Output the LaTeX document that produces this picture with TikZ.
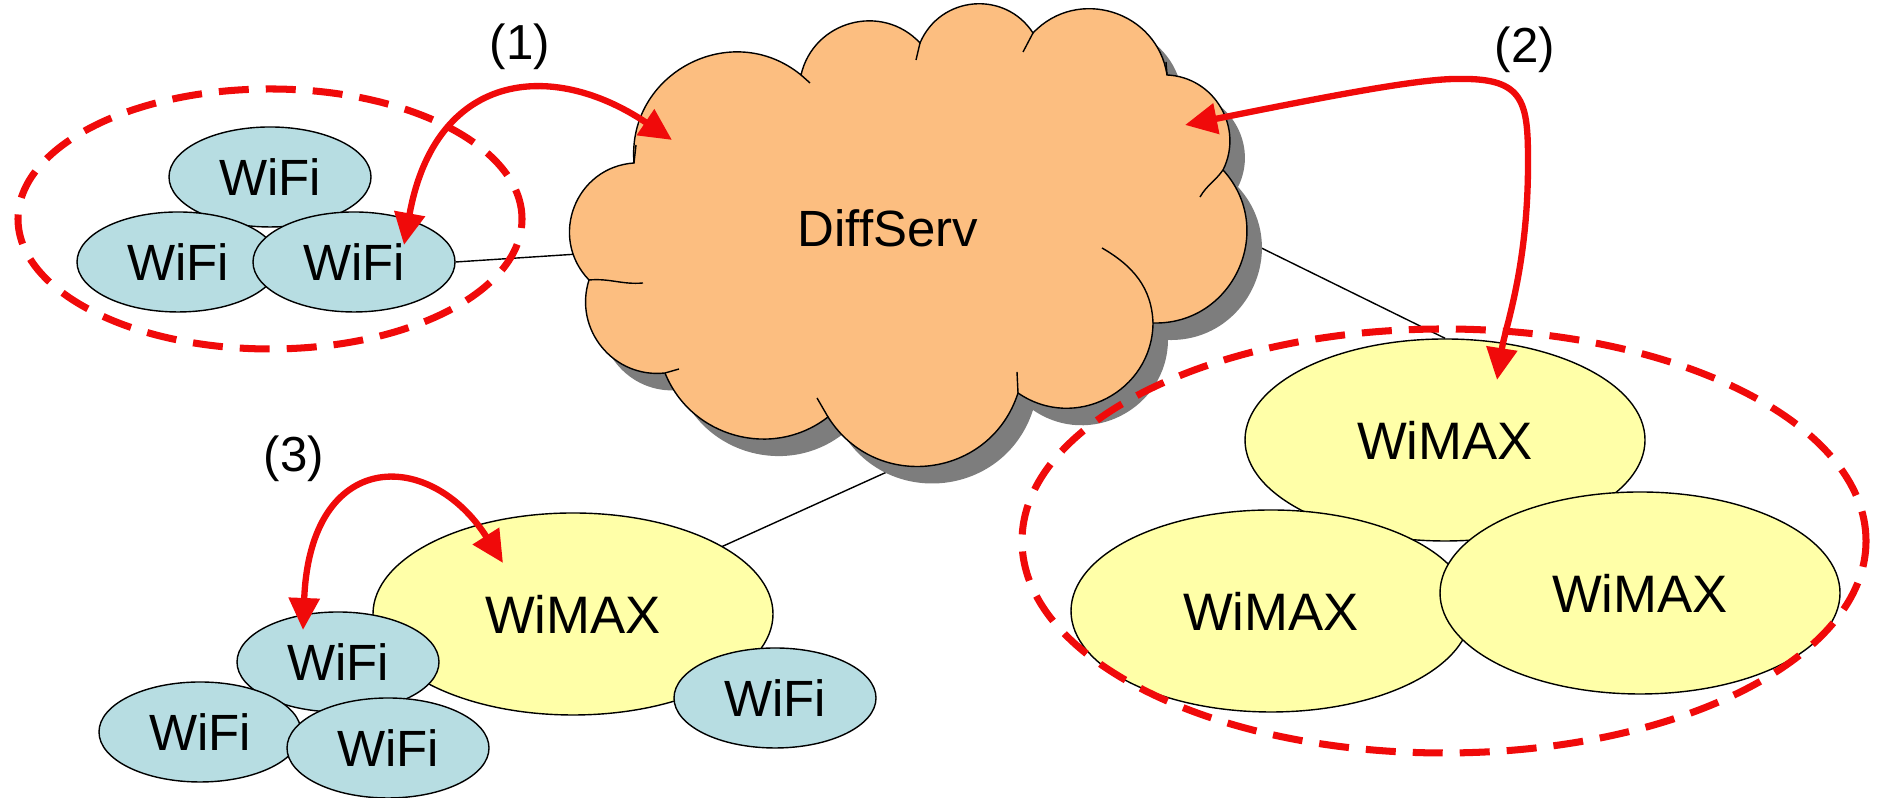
\documentclass[tikz,border=0pt]{standalone}
\usepackage{fontspec}
\setmainfont{Liberation Sans}
\usetikzlibrary{shapes.geometric}
\usetikzlibrary{arrows.meta}
\definecolor{wifiblue}{RGB}{183,221,226}
\definecolor{wimaxyellow}{RGB}{255,255,168}
\definecolor{cloudorange}{RGB}{252,190,128}
\definecolor{shadowgray}{RGB}{125,125,125}
\definecolor{hopred}{RGB}{240,10,10}
% outline of the DiffServ cloud, one puff per segment
\newcommand{\cloudoutline}{(6.34,6.35) to[bend left=67,looseness=1.22] (8.01,7.23)
  to[bend left=62,looseness=1.16] (9.20,7.55) to[bend left=62,looseness=1.16] (10.33,7.65)
  to[bend left=64,looseness=1.18] (11.67,7.23) to[bend left=57,looseness=1.10] (12.23,6.28)
  to[bend left=67,looseness=1.22] (11.53,4.75) to[bend left=62,looseness=1.16] (10.18,4.05)
  to[bend left=65,looseness=1.20] (8.28,3.81) to[bend left=53,looseness=1.06] (6.65,4.25)
  to[bend left=57,looseness=1.10] (5.89,5.18) to[bend left=65,looseness=1.20] (6.34,6.35) -- cycle}

\begin{document}
\begin{tikzpicture}[
  wifi/.style={ellipse,draw=black,thin,fill=wifiblue,minimum width=2.02cm,minimum height=1.0cm,inner sep=0pt,font=\fontsize{14.5}{17}\selectfont},
  wimax/.style={ellipse,draw=black,thin,fill=wimaxyellow,minimum width=4.0cm,minimum height=2.02cm,inner sep=0pt,font=\fontsize{15}{18}\selectfont},
  link/.style={draw=black,thin},
  crease/.style={draw=black,thin},
  zone/.style={draw=hopred,line width=2pt,dash pattern=on 0.3cm off 0.17cm},
  hop/.style={draw=hopred,line width=1.8pt,{Triangle[length=0.32cm,width=0.3cm]}-{Triangle[length=0.32cm,width=0.3cm]}},
  tag/.style={font=\fontsize{14}{16}\selectfont}
]
\useasboundingbox (0,0) rectangle (18.8,7.98);

% nodes of the three access groups
\node[wifi] (lfT) at (2.70,6.21) {WiFi};
\node[wifi] (lfL) at (1.78,5.36) {WiFi};
\node[wifi] (lfR) at (3.54,5.36) {WiFi};

\coordinate (coreW) at (6.40,5.48);
\coordinate (coreE) at (11.80,5.90);
\coordinate (coreS) at (9.09,3.36);
\draw[link] (lfR.east) -- (coreW);

\node[wimax] (rwT) at (14.45,3.58) {WiMAX};
\draw[link] (coreE) -- (rwT.north);
\node[wimax] (rwL) at (12.71,1.87) {WiMAX};
\node[wimax] (rwR) at (16.40,2.05) {WiMAX};

\coordinate (bwMc) at (5.73,1.84);
\draw[link] (bwMc) -- (coreS);
\node[wimax] (bwM) at (5.73,1.84) {WiMAX};
\node[wifi] (bfR) at (7.75,1.00) {WiFi};
\node[wifi] (bfT) at (3.38,1.36) {WiFi};
\node[wifi] (bfL) at (2.00,0.66) {WiFi};
\node[wifi] (bfM) at (3.88,0.50) {WiFi};

% core cloud with its shadow
\fill[shadowgray,xshift=0.15cm,yshift=-0.17cm] \cloudoutline;
\draw[black,thin,fill=cloudorange] \cloudoutline;
\draw[crease] (11.53,4.75) to[out=92,in=-30] (11.02,5.50);
\draw[crease] (12.23,6.28) to[out=235,in=60] (12.00,6.01);
\draw[crease] (5.89,5.18) to[out=5,in=185] (6.43,5.15);
\draw[crease] (6.34,6.35) -- (6.36,6.53);
\draw[crease] (8.01,7.23) -- (8.10,7.15);
\draw[crease] (9.20,7.55) -- (9.16,7.38);
\draw[crease] (10.33,7.65) -- (10.23,7.46);
\draw[crease] (11.67,7.23) -- (11.66,7.36);
\draw[crease] (10.18,4.05) -- (10.17,4.26);
\draw[crease] (8.28,3.81) -- (8.17,4.00);
\draw[crease] (6.65,4.25) -- (6.79,4.29);
\node[font=\fontsize{14.5}{17}\selectfont] (core) at (8.88,5.70) {DiffServ};

% handover zones
\draw[zone] (2.70,5.79) ellipse (2.52 and 1.30);
\draw[zone] (14.44,2.57) ellipse (4.22 and 2.12);

% handover arrows
\coordinate (h1a) at (4.04,5.53);
\coordinate (h1b) at (6.72,6.58);
\draw[hop] (h1a) .. controls (4.35,7.25) and (5.5,7.4) .. (h1b);
\node[tag] (t1) at (5.20,7.51) {(1)};

\coordinate (h2a) at (11.85,6.73);
\coordinate (h2b) at (14.97,4.18);
\draw[hop] (h2a) .. controls (13.2,7.0) and (14.2,7.2) .. (14.6,7.19)
  .. controls (15.25,7.2) and (15.28,6.95) .. (15.28,6.35)
  .. controls (15.28,5.3) and (15.05,4.7) .. (h2b);
\node[tag] (t2) at (15.25,7.48) {(2)};

\coordinate (h3a) at (3.03,1.68);
\coordinate (h3b) at (5.03,2.35);
\draw[hop] (h3a) .. controls (3.1,3.5) and (4.3,3.5) .. (h3b);
\node[tag] (t3) at (2.94,3.39) {(3)};

\end{tikzpicture}
\end{document}
